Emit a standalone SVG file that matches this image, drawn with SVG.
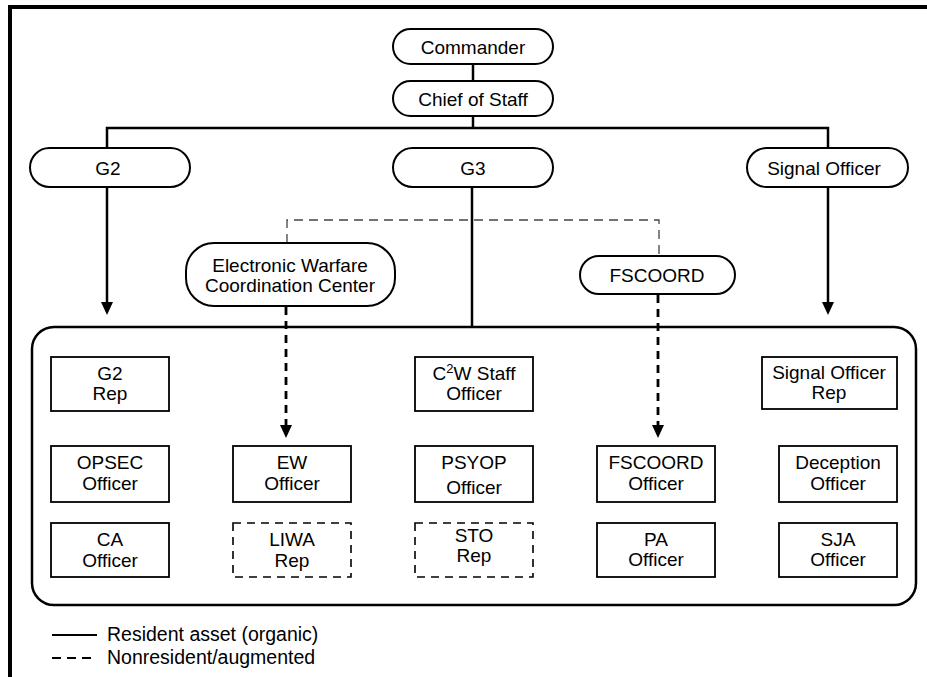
<svg xmlns="http://www.w3.org/2000/svg" width="927" height="677" viewBox="0 0 927 677">
<style>
text{font-family:"Liberation Sans",Arial,sans-serif;font-size:19px;fill:#000;text-anchor:middle}
.pill{fill:#fff;stroke:#000;stroke-width:2}
.box{fill:#fff;stroke:#000;stroke-width:1.8}
.dbox{fill:#fff;stroke:#000;stroke-width:1.6;stroke-dasharray:8 6}
.solid{fill:none;stroke:#000;stroke-width:2.5}
.thin{fill:none;stroke:#444;stroke-width:1.3;stroke-dasharray:9 6}
.thick{fill:none;stroke:#000;stroke-width:2.8;stroke-dasharray:8 6}
.head{fill:#000}
</style>
<rect width="927" height="677" fill="#fff"/>
<path d="M10,677 V7 H927" fill="none" stroke="#000" stroke-width="4"/>

<g id="connectors">
<path class="solid" d="M473,64 V80"/>
<path class="solid" d="M473,116 V128"/>
<path class="solid" d="M107,148 V128 H828 V148"/>
<path class="solid" d="M472,187 V327"/>
<path class="solid" d="M107,187 V303"/>
<path class="head" d="M101,302 L113,302 L107,315 Z"/>
<path class="solid" d="M828,187 V303"/>
<path class="head" d="M822,302 L834,302 L828,315 Z"/>
<path class="thin" d="M287,243 V220 H659 V256"/>
<path class="thick" d="M286,307 V425"/>
<path class="head" d="M280,425 L292,425 L286,438 Z"/>
<path class="thick" d="M658,295 V425"/>
<path class="head" d="M652,425 L664,425 L658,438 Z"/>
</g>

<g id="commander"><rect class="pill" x="393" y="29" width="160" height="35" rx="17.5"/><text x="473" y="54">Commander</text></g>
<g id="chief-of-staff"><rect class="pill" x="393" y="81" width="160" height="35" rx="17.5"/><text x="473" y="106">Chief of Staff</text></g>
<g id="g2"><rect class="pill" x="30" y="148" width="160" height="39" rx="19.5"/><text x="108" y="175">G2</text></g>
<g id="g3"><rect class="pill" x="393" y="148" width="160" height="39" rx="19.5"/><text x="473" y="175">G3</text></g>
<g id="signal-officer"><rect class="pill" x="747" y="148" width="161" height="39" rx="19.5"/><text x="824" y="175">Signal Officer</text></g>
<g id="ewcc"><rect class="pill" x="186" y="243" width="209" height="63" rx="28"/><text x="290" y="272">Electronic Warfare</text><text x="290" y="292">Coordination Center</text></g>
<g id="fscoord"><rect class="pill" x="580" y="256" width="155" height="38" rx="19"/><text x="657" y="282">FSCOORD</text></g>

<g id="cell"><rect x="32" y="327" width="884" height="278" rx="22" fill="none" stroke="#000" stroke-width="2.5"/></g>

<g id="g2-rep"><rect class="box" x="51" y="357" width="118" height="54"/><text x="110" y="380">G2</text><text x="110" y="400">Rep</text></g>
<g id="c2w-staff-officer"><rect class="box" x="415" y="357" width="118" height="54"/><text x="474" y="380">C<tspan font-size="13" dy="-7">2</tspan><tspan dy="7">W Staff</tspan></text><text x="474" y="400">Officer</text></g>
<g id="signal-officer-rep"><rect class="box" x="762" y="357" width="135" height="52"/><text x="829" y="379">Signal Officer</text><text x="829" y="399">Rep</text></g>

<g id="opsec-officer"><rect class="box" x="51" y="446" width="118" height="56"/><text x="110" y="469">OPSEC</text><text x="110" y="490">Officer</text></g>
<g id="ew-officer"><rect class="box" x="233" y="446" width="118" height="56"/><text x="292" y="469">EW</text><text x="292" y="490">Officer</text></g>
<g id="psyop-officer"><rect class="box" x="415" y="446" width="118" height="56"/><text x="474" y="469">PSYOP</text><text x="474" y="494">Officer</text></g>
<g id="fscoord-officer"><rect class="box" x="597" y="446" width="118" height="56"/><text x="656" y="469">FSCOORD</text><text x="656" y="490">Officer</text></g>
<g id="deception-officer"><rect class="box" x="779" y="446" width="118" height="56"/><text x="838" y="469">Deception</text><text x="838" y="490">Officer</text></g>

<g id="ca-officer"><rect class="box" x="51" y="523" width="118" height="54"/><text x="110" y="546">CA</text><text x="110" y="567">Officer</text></g>
<g id="liwa-rep"><rect class="dbox" x="233" y="523" width="118" height="54"/><text x="292" y="546">LIWA</text><text x="292" y="567">Rep</text></g>
<g id="sto-rep"><rect class="dbox" x="415" y="523" width="118" height="54"/><text x="474" y="542">STO</text><text x="474" y="562">Rep</text></g>
<g id="pa-officer"><rect class="box" x="597" y="523" width="118" height="54"/><text x="656" y="546">PA</text><text x="656" y="566">Officer</text></g>
<g id="sja-officer"><rect class="box" x="779" y="523" width="118" height="54"/><text x="838" y="546">SJA</text><text x="838" y="566">Officer</text></g>

<g id="legend">
<path d="M52,635 H97" stroke="#000" stroke-width="2.2"/>
<text x="107" y="641" style="text-anchor:start;font-size:19.5px">Resident asset (organic)</text>
<path d="M52,658 H97" stroke="#000" stroke-width="2.2" stroke-dasharray="9 6"/>
<text x="107" y="664" style="text-anchor:start;font-size:19.5px">Nonresident/augmented</text>
</g>
</svg>
